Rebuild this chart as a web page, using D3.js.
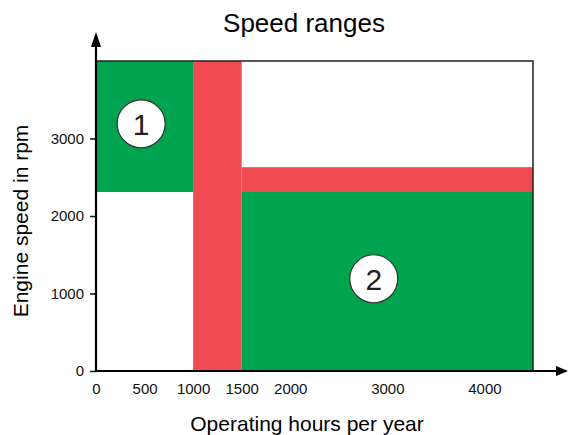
<!DOCTYPE html>
<html><head><meta charset="utf-8">
<script src="https://cdn.jsdelivr.net/npm/d3@7"></script>
<style>body{margin:0;background:#fff}svg{display:block;font-family:"Liberation Sans",Arial,sans-serif}</style>
</head><body>
<svg id="c" width="568" height="435"></svg>
<script>
const xTicks = [0, 500, 1000, 1500, 2000, 3000, 4000];
const yTicks = [0, 1000, 2000, 3000];
const greenZones = [
  {x0: 0, x1: 1000, y0: 2310, y1: 4000},
  {x0: 1500, x1: 4500, y0: 0, y1: 2310}
];
const redBands = [
  {x0: 1000, x1: 1500, y0: 0, y1: 4000},
  {x0: 1500, x1: 4500, y0: 2310, y1: 2630}
];
const zoneLabels = ["1", "2"];
const zoneLabelX = [465, 2860];
const zoneLabelY = [3190, 1190];

const svg = d3.select("#c");
const x = d3.scaleLinear().domain([0, 4500]).range([96, 533]);
const y = d3.scaleLinear().domain([0, 4000]).range([371, 61]);
const GREEN = "#00a34e", RED = "#f04b52";
const FF = "Liberation Sans, Arial, sans-serif";

const rect = (sel, data, col) => sel.selectAll(null).data(data).enter().append("rect")
  .attr("x", d => x(d.x0)).attr("y", d => y(d.y1))
  .attr("width", d => x(d.x1) - x(d.x0)).attr("height", d => y(d.y0) - y(d.y1))
  .attr("fill", col);
rect(svg, redBands, RED);
rect(svg, greenZones, GREEN);

// frame top and right
svg.append("path").attr("d", `M${x(0)},${y(4000)}H${x(4500)}V${y(0)}`)
  .attr("fill", "none").attr("stroke", "#222").attr("stroke-width", 1.5);

// axes
const xAxis = d3.axisBottom(x).tickValues(xTicks).tickFormat(d3.format("d")).tickSize(0).tickPadding(12);
const gx = svg.append("g").attr("transform", `translate(0,${y(0)})`).call(xAxis);
gx.select(".domain").remove();
gx.selectAll("text").attr("font-size", 15).attr("fill", "#111").attr("font-family", FF);

const yAxis = d3.axisLeft(y).tickValues(yTicks).tickFormat(d3.format("d")).tickSize(6).tickPadding(6);
const gy = svg.append("g").attr("transform", `translate(${x(0)},0)`).call(yAxis);
gy.select(".domain").remove();
gy.selectAll("line").attr("stroke", "#111").attr("stroke-width", 1.5);
gy.selectAll("text").attr("font-size", 15).attr("fill", "#111").attr("font-family", FF);

// axis lines with arrows
svg.append("line").attr("x1", x(0) - 1).attr("x2", 560).attr("y1", y(0)).attr("y2", y(0))
  .attr("stroke", "#000").attr("stroke-width", 2.2);
svg.append("path").attr("d", `M568,${y(0)}L556,${y(0) - 5}L556,${y(0) + 5}Z`).attr("fill", "#000");
svg.append("line").attr("x1", x(0)).attr("x2", x(0)).attr("y1", y(0) + 1).attr("y2", 42)
  .attr("stroke", "#000").attr("stroke-width", 2.2);
svg.append("path").attr("d", `M${x(0)},32L${x(0) - 5},47L${x(0) + 5},47Z`).attr("fill", "#000");

// zone labels
const lab = svg.selectAll(".zl").data(zoneLabels).enter().append("g")
  .attr("transform", (d, i) => `translate(${x(zoneLabelX[i])},${y(zoneLabelY[i])})`);
lab.append("circle").attr("r", 24).attr("fill", "#fff").attr("stroke", "#333").attr("stroke-width", 1.2);
lab.append("text").attr("text-anchor", "middle").attr("dy", "0.36em").attr("font-size", 30)
  .attr("fill", "#222").text(d => d);

// titles
svg.append("text").attr("x", 304).attr("y", 32).attr("text-anchor", "middle")
  .attr("font-size", 26).attr("fill", "#000").text("Speed ranges");
svg.append("text").attr("x", 307).attr("y", 431).attr("text-anchor", "middle")
  .attr("font-size", 21).attr("fill", "#000").text("Operating hours per year");
svg.append("text").attr("transform", "translate(28,221) rotate(-90)").attr("text-anchor", "middle")
  .attr("font-size", 21).attr("fill", "#000").text("Engine speed in rpm");
</script>
</body></html>
